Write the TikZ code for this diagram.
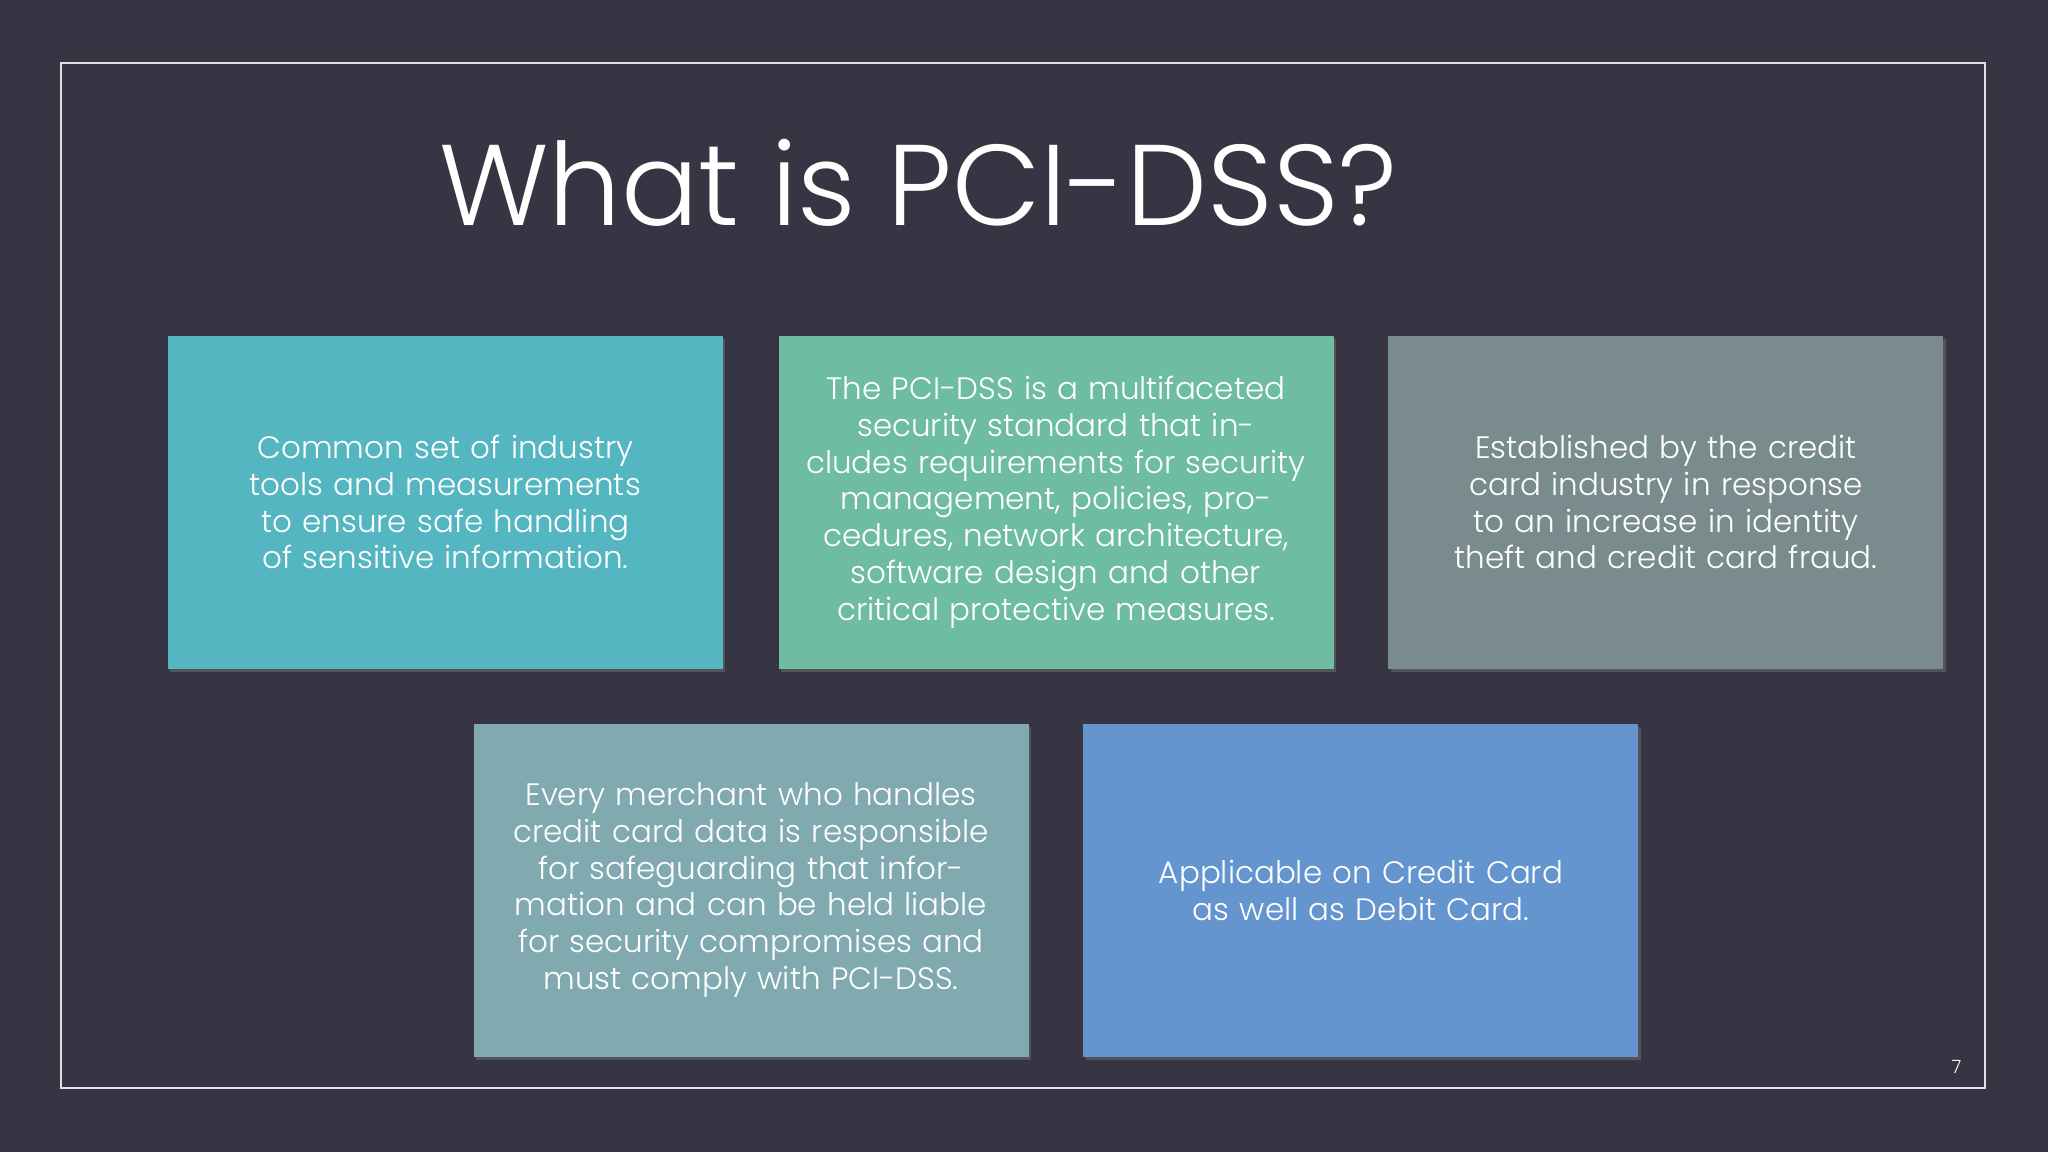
\documentclass[tikz,border=0pt]{standalone}
\usepackage{fontspec}
\setmainfont{Poppins}[UprightFont=* Light]
\begin{document}
\begin{tikzpicture}[x=0.02cm,y=-0.02cm,
  box/.style={minimum width=8.5cm,minimum height=5.1cm,text width=7.9cm,align=center,
    font=\fontsize{13.5}{16}\selectfont,text=white,inner sep=0pt,
    drop shadow={shadow xshift=1pt,shadow yshift=-1.5pt,opacity=0.4}}]
\definecolor{bg}{HTML}{373544}
\definecolor{cA}{HTML}{54B6C0}
\definecolor{cB}{HTML}{6FBDA0}
\definecolor{cC}{HTML}{7A8B8D}
\definecolor{cD}{HTML}{80A9B0}
\definecolor{cE}{HTML}{6495CE}
\useasboundingbox[fill=bg] (0,0) rectangle (1568,882);
\draw[white!85!bg,line width=0.8pt] (47,48) rectangle (1520,833);
\node[anchor=base west,text=white,font=\fontsize{50}{56}\selectfont,inner sep=0pt] (title) at (336,173) {What is PCI-DSS?};
\usetikzlibrary{shadows}
\node[box,fill=cA] (a) at (341,384.5) {Common set of industry tools and measurements to ensure safe handling of sensitive information.};
\node[box,fill=cB] (b) at (808.5,384.5) {The PCI-DSS is a multifaceted security standard that includes requirements for security management, policies, procedures, network architecture, software design and other critical protective measures.};
\node[box,fill=cC] (c) at (1275.5,384.5) {Established by the credit card industry in response to an increase in identity theft and credit card fraud.};
\node[box,fill=cD] (d) at (575,681.5) {Every merchant who handles credit card data is responsible for safeguarding that information and can be held liable for security compromises and must comply with PCI-DSS.};
\node[box,fill=cE] (e) at (1042,681.5) {Applicable on Credit Card as well as Debit Card.};
\node[text=white,font=\fontsize{8}{9}\selectfont] (p) at (1498,817) {7};
\end{tikzpicture}
\end{document}
